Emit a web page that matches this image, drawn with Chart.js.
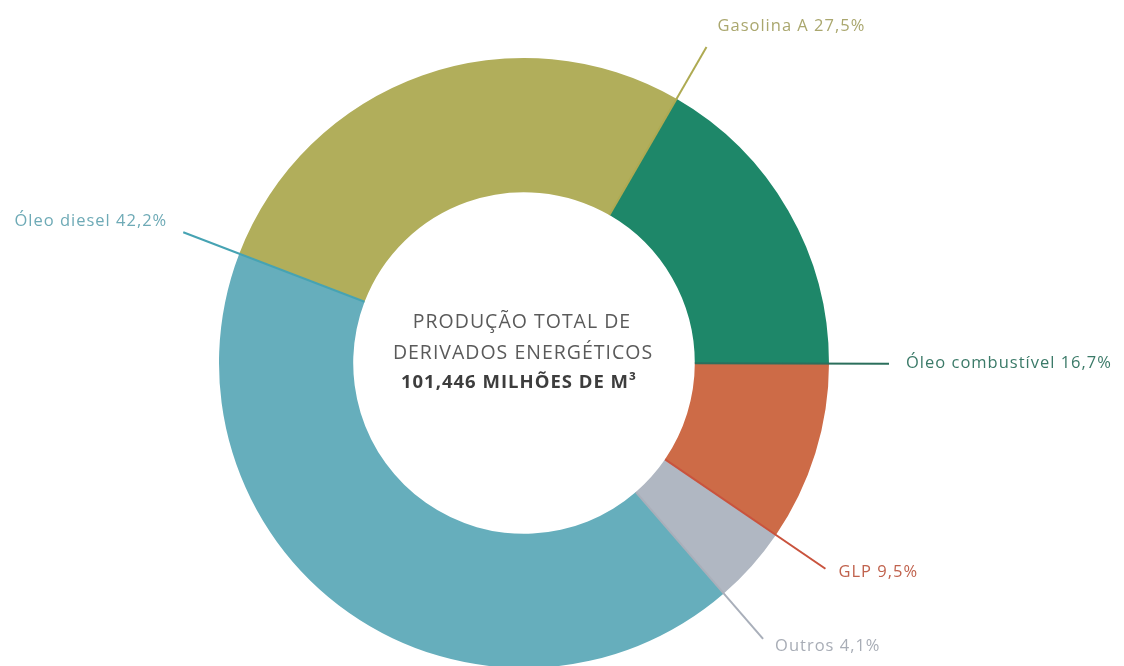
<!DOCTYPE html>
<html lang="pt-BR">
<head>
  <meta charset="UTF-8">
  <title>Produção de derivados energéticos</title>
  <script src="https://cdn.jsdelivr.net/npm/chart.js"></script>
  <style>
    html, body { margin: 0; padding: 0; background: #fff; overflow: hidden; }
  </style>
</head>
<body>
  <canvas id="derivadosChart" width="1124" height="666"></canvas>

  <script>
    // Derivados energéticos - participação na produção total (%)
    const categorias = ['Óleo combustível', 'GLP', 'Outros', 'Óleo diesel', 'Gasolina A'];
    const participacao = [16.7, 9.5, 4.1, 42.2, 27.5];
    const tituloCentro = ['PRODUÇÃO TOTAL DE', 'DERIVADOS ENERGÉTICOS'];
    const totalCentro = '101,446 MILHÕES DE M³';

    const coresFatia = ['#1e8769', '#cd6b47', '#b0b7c2', '#66aebc', '#b1ae5b'];
    const coresLinha = ['#2b6f5c', '#c9533d', '#a9afba', '#46a3b3', '#aeaa52'];
    const coresTexto = ['#3b7a68', '#c0624d', '#a8adb6', '#6eaab6', '#aaa76e'];
    // deslocamento do texto em relação ao fim da linha guia
    const deslocX = [17, 13, 12, -16, 11];
    const deslocY = [0, 4, 7, -11, -21];

    const FONTE = '"Open Sans", "DejaVu Sans", sans-serif';

    // linhas guia ao longo do fim de cada fatia + rótulos
    const rotulosPlugin = {
      id: 'rotulos',
      afterDatasetsDraw(chart) {
        const ctx = chart.ctx;
        const meta = chart.getDatasetMeta(0);
        meta.data.forEach((arc, i) => {
          const { x, y, endAngle, innerRadius, outerRadius } = arc.getProps(['x', 'y', 'endAngle', 'innerRadius', 'outerRadius'], true);
          const cos = Math.cos(endAngle), sin = Math.sin(endAngle);
          const r2 = outerRadius + 60;
          const ex = x + cos * r2, ey = y + sin * r2;

          ctx.save();
          ctx.strokeStyle = coresLinha[i];
          ctx.lineWidth = 2;
          ctx.beginPath();
          ctx.moveTo(x + cos * innerRadius, y + sin * innerRadius);
          ctx.lineTo(ex, ey);
          ctx.stroke();

          const valor = participacao[i].toFixed(1).replace('.', ',');
          ctx.font = '16.5px ' + FONTE;
          ctx.letterSpacing = '1px';
          ctx.fillStyle = coresTexto[i];
          ctx.textBaseline = 'middle';
          ctx.textAlign = deslocX[i] < 0 ? 'right' : 'left';
          ctx.fillText(categorias[i] + ' ' + valor + '%', ex + deslocX[i], ey + deslocY[i]);
          ctx.restore();
        });

        // texto central
        const cx = meta.data[0].x, cy = meta.data[0].y;
        ctx.save();
        ctx.textAlign = 'center';
        ctx.textBaseline = 'middle';
        ctx.letterSpacing = '1px';
        ctx.fillStyle = '#5a5a5a';
        ctx.font = '19.5px ' + FONTE;
        ctx.fillText(tituloCentro[0], cx - 2, cy - 41);
        ctx.fillText(tituloCentro[1], cx - 1, cy - 10);
        ctx.fillStyle = '#3d3d3d';
        ctx.font = 'bold 18.5px ' + FONTE;
        ctx.fillText(totalCentro, cx - 5, cy + 20);
        ctx.restore();
      }
    };

    new Chart(document.getElementById('derivadosChart'), {
      type: 'doughnut',
      data: {
        labels: categorias,
        datasets: [{
          data: participacao,
          backgroundColor: coresFatia,
          borderWidth: 0
        }]
      },
      options: {
        responsive: false,
        animation: false,
        rotation: 30,
        cutout: '56%',
        radius: 305,
        layout: { padding: { left: 222, right: 298, top: 60, bottom: 0 } },
        plugins: {
          legend: { display: false },
          tooltip: { enabled: false }
        }
      },
      plugins: [rotulosPlugin]
    });
  </script>
</body>
</html>
